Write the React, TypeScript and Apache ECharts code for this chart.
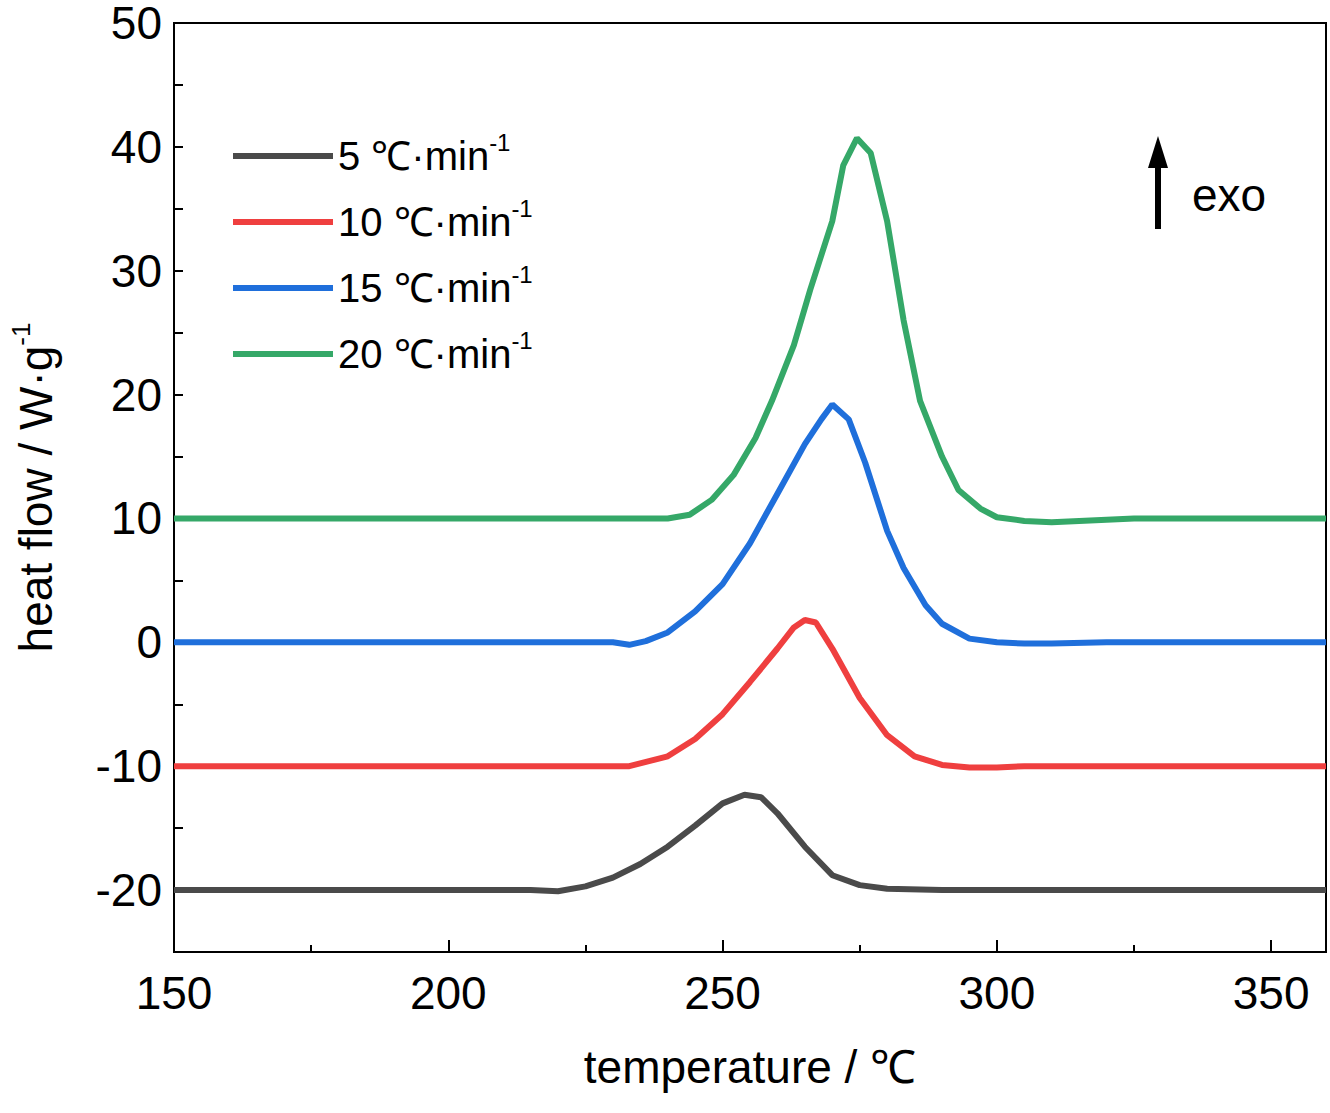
import React, { useEffect, useRef } from "react";
import * as echarts from "echarts";

const xBlack = [150, 200, 215, 220, 225, 230, 235, 240, 245, 250, 254, 257, 260, 265, 270, 275, 280, 290, 360];
const yBlack = [-20, -20, -20, -20.1, -19.7, -19.0, -17.9, -16.5, -14.8, -13.0, -12.3, -12.5, -13.8, -16.5, -18.8, -19.6, -19.9, -20, -20];
const xRed = [150, 233, 240, 245, 250, 255, 260, 263, 265, 267, 270, 275, 280, 285, 290, 295, 300, 305, 360];
const yRed = [-10, -10, -9.2, -7.8, -5.8, -3.2, -0.5, 1.2, 1.8, 1.6, -0.5, -4.5, -7.5, -9.2, -9.9, -10.1, -10.1, -10, -10];
const xBlue = [150, 230, 233, 236, 240, 245, 250, 255, 260, 265, 268, 270, 273, 276, 280, 283, 287, 290, 295, 300, 305, 310, 320, 360];
const yBlue = [0, 0, -0.2, 0.1, 0.8, 2.5, 4.7, 8, 12, 16, 18, 19.2, 18, 14.5, 9, 6, 3, 1.5, 0.3, 0, -0.1, -0.1, 0, 0];
const xGreen = [150, 240, 244, 248, 252, 256, 259, 263, 266, 270, 272, 274.5, 277, 280, 283, 286, 290, 293, 297, 300, 305, 310, 315, 325, 360];
const yGreen = [10, 10, 10.3, 11.5, 13.5, 16.5, 19.5, 24, 28.5, 34, 38.5, 40.7, 39.5, 34, 26, 19.5, 15, 12.3, 10.8, 10.1, 9.8, 9.7, 9.8, 10, 10];
const yTicks = [-20, -10, 0, 10, 20, 30, 40, 50];
const rates = ["5", "10", "15", "20"];
const colors = ["#4a4a4a", "#ef3f3f", "#1f6fdb", "#35a868"];

const zip = (xs: number[], ys: number[]) => xs.map((x, i) => [x, ys[i]]);

export default function App() {
  const ref = useRef<HTMLDivElement>(null);
  useEffect(() => {
    document.body.style.margin = "0";
    if (!ref.current) return;
    const chart = echarts.init(ref.current, undefined, { renderer: "svg" });
    const font = "Liberation Sans";
    const data = [zip(xBlack, yBlack), zip(xRed, yRed), zip(xBlue, yBlue), zip(xGreen, yGreen)];
    chart.setOption({
      animation: false,
      textStyle: { fontFamily: font },
      grid: { left: 168, top: 22, right: 4, bottom: 161, show: true, borderColor: "#000", borderWidth: 2 },
      legend: {
        left: 228, top: 125, orient: "vertical", itemGap: 20, itemWidth: 100, itemHeight: 6,
        icon: "rect",
        data: rates.map((r) => `${r} ℃·min`),
        formatter: (n: string) => `{a|${n}}{s|-1}`,
        textStyle: {
          rich: {
            a: { fontSize: 40, fontFamily: font, color: "#000" },
            s: { fontSize: 24, fontFamily: font, color: "#000", verticalAlign: "bottom", padding: [0, 0, 28, 0] },
          },
        },
      },
      xAxis: {
        type: "value", min: 150, max: 360, interval: 50,
        name: "temperature / ℃", nameLocation: "middle", nameGap: 92,
        nameTextStyle: { fontSize: 46, color: "#000" },
        axisLine: { onZero: false, lineStyle: { color: "#000", width: 2 } },
        axisTick: { inside: true, length: 12, lineStyle: { width: 2 } },
        minorTick: { show: true, splitNumber: 2, length: 7, lineStyle: { color: "#000", width: 2 } },
        splitLine: { show: false },
        axisLabel: { fontSize: 46, color: "#000", margin: 18 },
      },
      yAxis: {
        type: "value", min: -25, max: 50, interval: 5,
        name: "{a|heat flow / W·g}{s|-1}", nameLocation: "middle", nameGap: 110, nameRotate: 90,
        nameTextStyle: {
          rich: {
            a: { fontSize: 46, fontFamily: font, color: "#000" },
            s: { fontSize: 26, fontFamily: font, color: "#000", verticalAlign: "bottom", padding: [0, 0, 30, 0] },
          },
        },
        axisLine: { onZero: false, lineStyle: { color: "#000", width: 2 } },
        axisTick: { inside: true, length: 9, lineStyle: { width: 2 } },
        splitLine: { show: false },
        axisLabel: {
          fontSize: 46, color: "#000", margin: 12, showMaxLabel: true,
          formatter: (v: number) => (yTicks.includes(v) ? String(v) : ""),
        },
      },
      series: rates.map((r, i) => ({
        name: `${r} ℃·min`, type: "line", data: data[i], showSymbol: false, symbol: "none",
        lineStyle: { color: colors[i], width: 6 }, itemStyle: { color: colors[i] },
      })),
      graphic: [
        { type: "rect", shape: { x: 1155, y: 165, width: 6, height: 64 }, style: { fill: "#000" } },
        { type: "polygon", shape: { points: [[1148, 168], [1158, 136], [1168, 168]] }, style: { fill: "#000" } },
        { type: "text", left: 1192, top: 172, style: { text: "exo", fontSize: 46, fontFamily: font, fill: "#000" } },
      ],
    });
    return () => chart.dispose();
  }, []);
  return <div ref={ref} style={{ width: 1330, height: 1113 }} />;
}
